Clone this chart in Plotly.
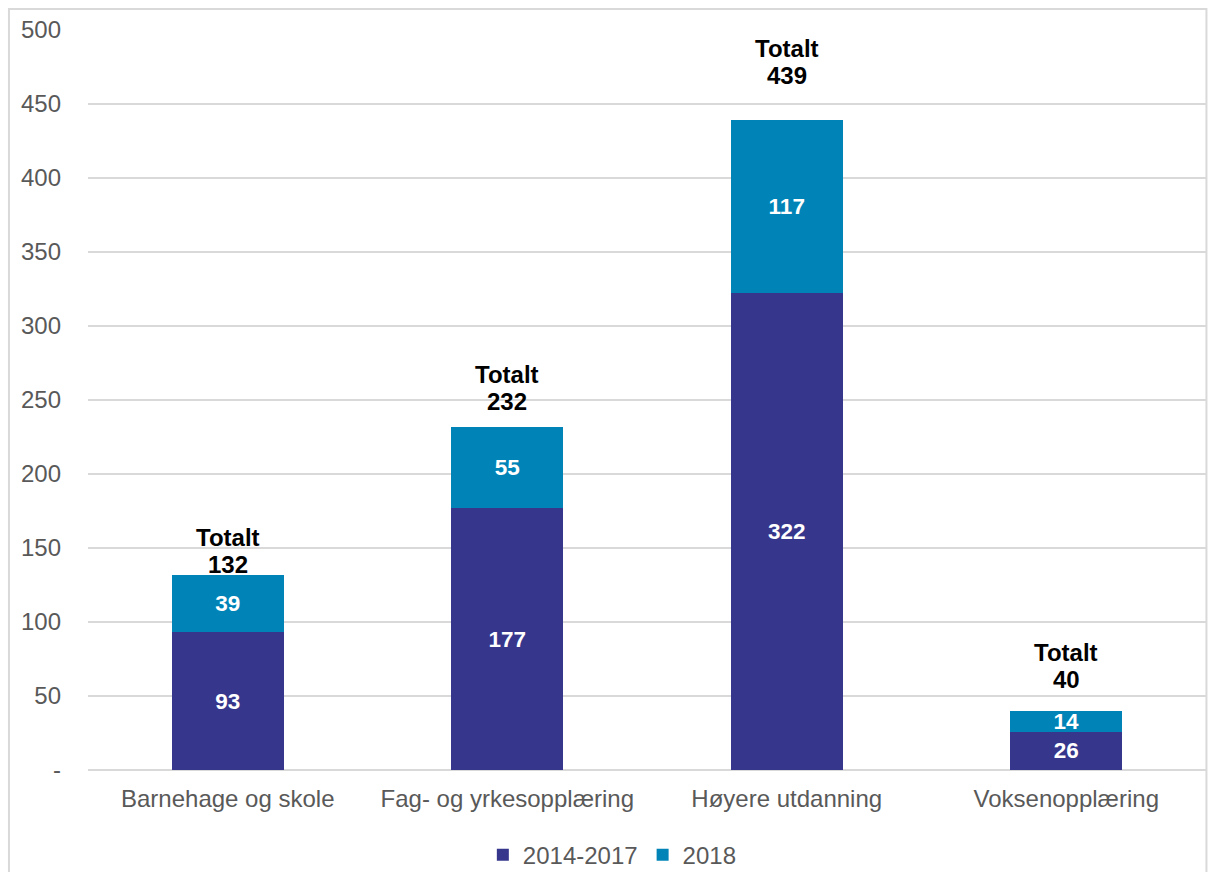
import plotly.graph_objects as go

categories = ["Barnehage og skole", "Fag- og yrkesopplæring", "Høyere utdanning", "Voksenopplæring"]
series_names = ["2014-2017", "2018"]
values_2014_2017 = [93, 177, 322, 26]
values_2018 = [39, 55, 117, 14]
totals = [a + b for a, b in zip(values_2014_2017, values_2018)]
y_tickvals = [0, 50, 100, 150, 200, 250, 300, 350, 400, 450, 500]
y_ticktext = ["-", "50", "100", "150", "200", "250", "300", "350", "400", "450", "500"]

# label placement (pixel offsets of the total labels above each bar)
total_label_shift = [10, 25, 45, 31]

colors = ["#35368C", "#0084B8"]
FONT = "Liberation Sans, Arial, sans-serif"
GREY = "#595959"

fig = go.Figure()
for name, vals, col in zip(series_names, [values_2014_2017, values_2018], colors):
    fig.add_trace(go.Bar(
        x=categories, y=vals, name=name,
        marker=dict(color=col, line=dict(width=0)),
        text=vals, texttemplate="%{text}", textposition="inside",
        insidetextanchor="middle", constraintext="none",
        textfont=dict(family=FONT, size=22.5, color="white", weight="bold"),
        width=0.4,
    ))

for cat, tot, sh in zip(categories, totals, total_label_shift):
    fig.add_annotation(
        x=cat, y=tot, xref="x", yref="y", yanchor="middle",
        text=f"<b>{tot}</b>", showarrow=False, yshift=sh,
        font=dict(family=FONT, size=24, color="black"),
    )
    fig.add_annotation(
        x=cat, y=tot, xref="x", yref="y", yanchor="middle",
        text="<b>Totalt</b>", showarrow=False, yshift=sh + 27,
        font=dict(family=FONT, size=24, color="black"),
    )

# outer border
fig.add_shape(type="rect", xref="paper", yref="paper",
              x0=-0.0707, x1=1.0004, y0=-0.3, y1=1.0284,
              line=dict(color="#D9D9D9", width=2), fillcolor="rgba(0,0,0,0)", layer="below")

fig.update_layout(
    barmode="stack",
    width=1208, height=872,
    margin=dict(l=88, r=2, t=30, b=102, autoexpand=False),
    plot_bgcolor="white", paper_bgcolor="white",
    font=dict(family=FONT, size=24, color=GREY),
    showlegend=True,
    legend=dict(orientation="h", x=0.469, xanchor="center", y=-0.115, yanchor="middle",
                font=dict(family=FONT, size=24, color=GREY),
                itemwidth=30, traceorder="normal"),
)
fig.update_yaxes(
    range=[0, 500], tickvals=y_tickvals, ticktext=y_ticktext,
    showgrid=True, gridcolor="#D9D9D9", gridwidth=1.5,
    zeroline=True, zerolinecolor="#D9D9D9", zerolinewidth=1.5,
    showline=False, ticklabelstandoff=26, automargin=False,
    tickfont=dict(family=FONT, size=24, color=GREY),
)
fig.update_xaxes(
    showgrid=False, showline=False, ticklabelstandoff=12, automargin=False,
    tickfont=dict(family=FONT, size=24, color=GREY),
)

fig.write_html("out.html", config={"displayModeBar": False},
               post_script="document.body.style.margin='0';document.body.style.overflow='hidden';")
